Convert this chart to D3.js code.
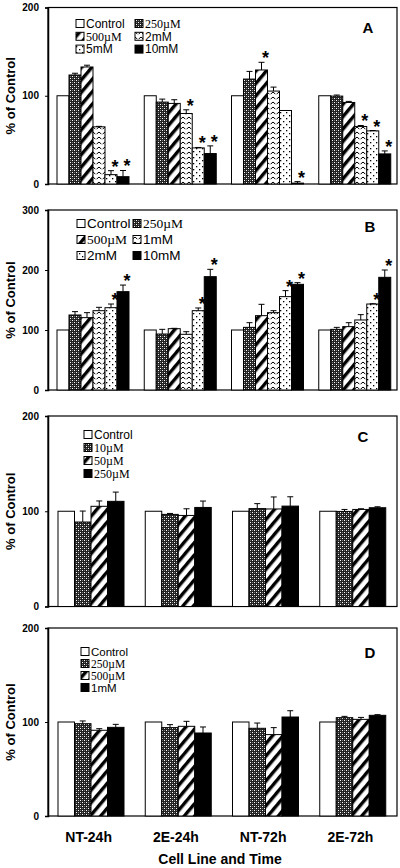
<!DOCTYPE html>
<html><head><meta charset="utf-8">
<script src="https://cdn.jsdelivr.net/npm/d3@7"></script>
<style>
html,body{margin:0;padding:0;background:#fff;}
svg{display:block;}
</style></head>
<body>
<svg id="chart" width="400" height="868"></svg>
<script>
// ---------- DATA ----------
const groups = ["NT-24h", "2E-24h", "NT-72h", "2E-72h"];

const seriesA = ["Control", "250µM", "500µM", "2mM", "5mM", "10mM"];
const valuesA = [
  [100, 123.5, 132.6, 64.8, 10.6, 8.3],
  [100, 92.8, 91.3, 79.9, 40.9, 34.5],
  [100, 118.9, 129.2, 105.3, 83.3, 1.0],
  [100, 99.6, 92.4, 65.2, 60.2, 34.1]
];
const errorsA = [
  [0, 2.0, 2.0, 0.5, 4.5, 7.0],
  [0, 3.4, 4.2, 4.2, 0.5, 8.7],
  [0, 8.7, 8.7, 4.5, 0, 1.7],
  [0, 1.2, 1.2, 1.1, 0.4, 3.4]
];
const starsA = [
  [0, 0, 0, 0, 1, 1],
  [0, 0, 0, 1, 1, 1],
  [0, 0, 1, 0, 0, 1],
  [0, 0, 0, 1, 1, 1]
];
const ticksA = [0, 100, 200];

const seriesB = ["Control", "250µM", "500µM", "1mM", "2mM", "10mM"];
const valuesB = [
  [100, 125.0, 120.6, 132.2, 137.2, 163.9],
  [100, 93.3, 102.2, 92.8, 132.2, 188.9],
  [100, 104.4, 123.9, 128.9, 155.6, 176.1],
  [100, 101.1, 105.6, 116.7, 143.3, 187.8]
];
const errorsB = [
  [0, 5.6, 8.3, 5.6, 6.1, 11.0],
  [0, 7.8, 0.6, 4.4, 4.5, 12.2],
  [0, 7.8, 18.9, 3.3, 10.0, 2.8],
  [0, 3.3, 6.6, 8.9, 0.5, 12.2]
];
const starsB = [
  [0, 0, 0, 0, 1, 1],
  [0, 0, 0, 0, 1, 1],
  [0, 0, 0, 0, 1, 1],
  [0, 0, 0, 0, 1, 1]
];
const ticksB = [0, 100, 200, 300];

const seriesC = ["Control", "10µM", "50µM", "250µM"];
const valuesC = [
  [100, 88.7, 105.2, 110.4],
  [100, 96.7, 95.6, 104.0],
  [100, 102.8, 102.4, 105.4],
  [100, 99.8, 101.9, 103.7]
];
const errorsC = [
  [0, 11.5, 5.6, 9.7],
  [0, 1.0, 7.0, 6.7],
  [0, 5.2, 12.6, 9.8],
  [0, 2.1, 0.7, 1.0]
];
const ticksC = [0, 100, 200];

const seriesD = ["Control", "250µM", "500µM", "1mM"];
const valuesD = [
  [100, 98.2, 91.2, 94.3],
  [100, 94.0, 95.4, 88.3],
  [100, 93.3, 86.6, 105.3],
  [100, 104.6, 102.8, 107.1]
];
const errorsD = [
  [0, 2.9, 1.7, 3.2],
  [0, 3.2, 5.3, 6.4],
  [0, 5.6, 7.4, 6.7],
  [0, 1.4, 2.1, 0.7]
];
const ticksD = [0, 100, 200];

const panelLetters = ["A", "B", "C", "D"];
const xTitle = "Cell Line and Time";
const yTitle = "% of Control";

// ---------- DRAW ----------
const svg = d3.select("#chart");
svg.append("rect").attr("width", 400).attr("height", 868).attr("fill", "#fff");
const defs = svg.append("defs");
const SANS = "'Liberation Sans', Arial, sans-serif";
const SERIF = "'Liberation Serif', 'Times New Roman', serif";

function makePatterns() {
  let p = defs.append("pattern").attr("id", "pCheck").attr("patternUnits", "userSpaceOnUse")
    .attr("width", 4).attr("height", 4);
  p.append("rect").attr("width", 4).attr("height", 4).attr("fill", "#222");
  [[0,0],[2,2],[2,0],[0,2]].forEach(([x,y],i) => {
    p.append("rect").attr("x", x).attr("y", y).attr("width", 1).attr("height", 1)
      .attr("fill", i < 2 ? "#fff" : "#777");
  });
  p = defs.append("pattern").attr("id", "pStripe").attr("patternUnits", "userSpaceOnUse")
    .attr("width", 8).attr("height", 8).attr("patternTransform", "rotate(40)");
  p.append("rect").attr("width", 8).attr("height", 8).attr("fill", "#fff");
  p.append("rect").attr("x", 0).attr("width", 3.4).attr("height", 8).attr("fill", "#000");
  p = defs.append("pattern").attr("id", "pWave").attr("patternUnits", "userSpaceOnUse")
    .attr("width", 6).attr("height", 5);
  p.append("rect").attr("width", 6).attr("height", 5).attr("fill", "#fff");
  p.append("path").attr("d", "M0.8,4.2 Q3,0.3 5.2,4.2").attr("fill", "none").attr("stroke", "#000").attr("stroke-width", 1);
  p = defs.append("pattern").attr("id", "pDot").attr("patternUnits", "userSpaceOnUse")
    .attr("width", 6).attr("height", 6);
  p.append("rect").attr("width", 6).attr("height", 6).attr("fill", "#fff");
  p.append("rect").attr("x", 1).attr("y", 1).attr("width", 1.3).attr("height", 1.3).attr("fill", "#000");
  p.append("rect").attr("x", 4).attr("y", 4).attr("width", 1.3).attr("height", 1.3).attr("fill", "#000");
}
makePatterns();

const fills6 = ["#fff", "url(#pCheck)", "url(#pStripe)", "url(#pWave)", "url(#pDot)", "#000"];
const fills4 = ["#fff", "url(#pCheck)", "url(#pStripe)", "#000"];

const X0 = 48, X1 = 397;
const xGroup = d3.scaleBand().domain(groups).range([X0, X1]).paddingInner(0).paddingOuter(0);

const panels = [
  { letter: "A", series: seriesA, values: valuesA, errors: errorsA, stars: starsA, ticks: ticksA,
    top: 7.5, bottom: 184, max: 200, fills: fills6, inner: [9, 81],
    legend: { cols: 2, x: [76, 135], y0: 23.5, dy: 12.8, font: 12, box: 8 }, letterPos: [368, 28] },
  { letter: "B", series: seriesB, values: valuesB, errors: errorsB, stars: starsB, ticks: ticksB,
    top: 210, bottom: 390, max: 300, fills: fills6, inner: [9, 81],
    legend: { cols: 2, x: [77, 133], y0: 223.5, dy: 16, font: 13.5, box: 8 }, letterPos: [370, 227] },
  { letter: "C", series: seriesC, values: valuesC, errors: errorsC, stars: null, ticks: ticksC,
    top: 416, bottom: 606.5, max: 200, fills: fills4, inner: [10, 76],
    legend: { cols: 1, x: [84], y0: 434.5, dy: 13, font: 12, box: 8 }, letterPos: [363, 437] },
  { letter: "D", series: seriesD, values: valuesD, errors: errorsD, stars: null, ticks: ticksD,
    top: 628, bottom: 816, max: 200, fills: fills4, inner: [10, 76],
    legend: { cols: 1, x: [81], y0: 651.5, dy: 12, font: 11.5, box: 8 }, letterPos: [370, 653] }
];

panels.forEach(P => {
  const g = svg.append("g");
  const y = d3.scaleLinear().domain([0, P.max]).range([P.bottom, P.top]);
  const xs = d3.scaleBand().domain(P.series).range(P.inner).paddingInner(0);

  g.append("rect").attr("x", X0).attr("y", P.top).attr("width", X1 - X0).attr("height", P.bottom - P.top)
    .attr("fill", "none").attr("stroke", "#000").attr("stroke-width", 1.2);

  const ax = g.append("g").attr("transform", `translate(${X0},0)`)
    .call(d3.axisLeft(y).tickValues(P.ticks).tickSize(3).tickPadding(6).tickFormat(d3.format("d")));
  ax.select(".domain").attr("stroke-width", 1.5);
  ax.selectAll("text").attr("font-family", SANS).attr("font-weight", "bold").attr("font-size", 10).attr("fill", "#000");

  g.append("text").attr("transform", `translate(15,${(P.top + P.bottom) / 2}) rotate(-90)`)
    .attr("text-anchor", "middle").attr("font-family", SANS).attr("font-weight", "bold")
    .attr("font-size", 13).text(yTitle);

  groups.forEach((grp, gi) => {
    const gx = xGroup(grp);
    P.series.forEach((s, si) => {
      const v = P.values[gi][si];
      const e = P.errors[gi][si];
      const bx = gx + xs(s);
      const bw = xs.bandwidth();
      g.append("rect").attr("x", bx).attr("y", y(v)).attr("width", bw).attr("height", y(0) - y(v))
        .attr("fill", P.fills[si]).attr("stroke", "#000").attr("stroke-width", 1);
      const cx = bx + bw / 2;
      if (e > 0) {
        g.append("line").attr("x1", cx).attr("x2", cx).attr("y1", y(v)).attr("y2", y(v + e))
          .attr("stroke", "#000").attr("stroke-width", 1);
        g.append("line").attr("x1", cx - 3).attr("x2", cx + 3).attr("y1", y(v + e)).attr("y2", y(v + e))
          .attr("stroke", "#000").attr("stroke-width", 1);
      }
      if (P.stars && P.stars[gi][si]) {
        g.append("text").attr("x", cx + 4).attr("y", y(v + e) + 2)
          .attr("text-anchor", "middle").attr("font-family", SANS).attr("font-weight", "bold")
          .attr("font-size", 18).text("*");
      }
    });
  });

  const L = P.legend;
  P.series.forEach((s, si) => {
    const col = si % L.cols, row = Math.floor(si / L.cols);
    const lx = L.x[col], ly = L.y0 + row * L.dy;
    g.append("rect").attr("x", lx).attr("y", ly - L.box / 2).attr("width", L.box).attr("height", L.box)
      .attr("fill", P.fills[si]).attr("stroke", "#000").attr("stroke-width", 1);
    const isMicro = s.indexOf("µ") >= 0;
    g.append("text").attr("x", lx + L.box + 2).attr("y", ly).attr("dy", "0.35em")
      .attr("font-family", isMicro ? SERIF : SANS).attr("font-size", L.font)
      .text(s);
  });

  g.append("text").attr("x", P.letterPos[0]).attr("y", P.letterPos[1]).attr("dy", "0.35em")
    .attr("text-anchor", "middle").attr("font-family", SANS).attr("font-weight", "bold")
    .attr("font-size", 15).text(P.letter);
});

groups.forEach(grp => {
  svg.append("text").attr("x", xGroup(grp) + xGroup.bandwidth() / 2 - 3).attr("y", 842)
    .attr("text-anchor", "middle").attr("font-family", SANS).attr("font-weight", "bold")
    .attr("font-size", 14).text(grp);
});
svg.append("text").attr("x", 220).attr("y", 864).attr("text-anchor", "middle")
  .attr("font-family", SANS).attr("font-weight", "bold").attr("font-size", 14).text(xTitle);
</script>
</body></html>
